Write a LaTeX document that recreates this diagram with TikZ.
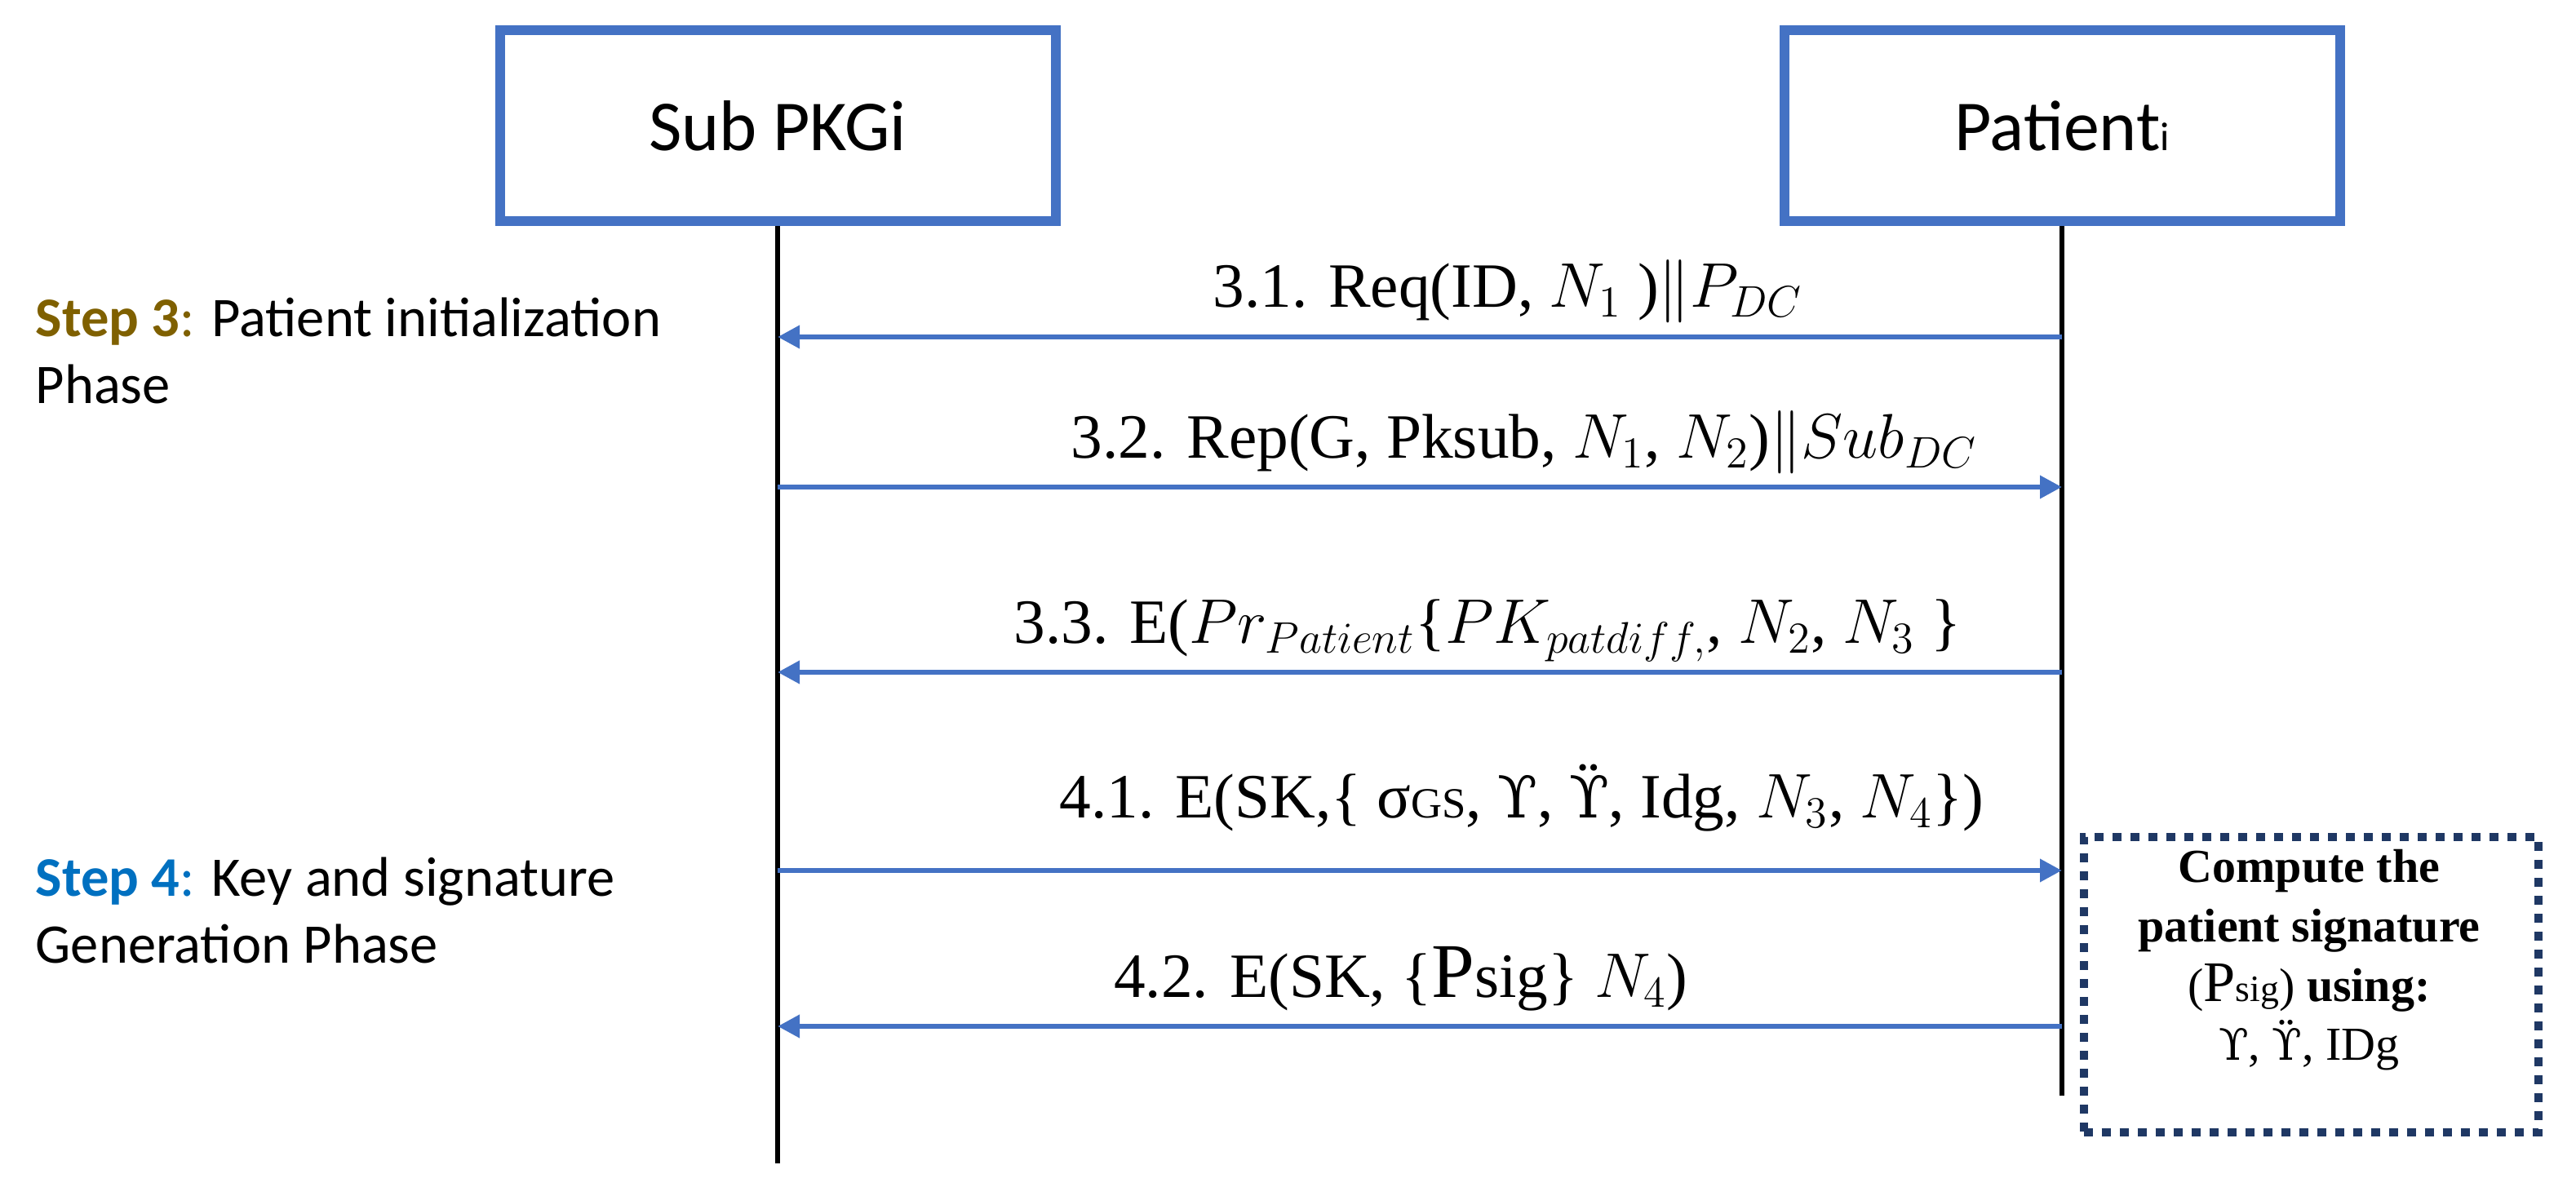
\RequirePackage{fix-cm}
\documentclass[tikz,border=0pt]{standalone}
\usepackage{fontspec}
\setmainfont{Liberation Serif}
\newfontfamily\calibri{Carlito}
\newfontfamily\upsfont[Scale=0.92]{DejaVu Serif}
\usetikzlibrary{arrows.meta,positioning}
\definecolor{boxblue}{HTML}{4472C4}
\definecolor{stepgold}{HTML}{7F6000}
\definecolor{stepblue}{HTML}{0070C0}
\definecolor{navy}{HTML}{1F3864}
\newcommand{\ups}{{\upsfont ϒ}}
\newcommand{\upsdd}{{\upsfont ϔ}}

\begin{document}
\begin{tikzpicture}[
    actor/.style={draw=boxblue, line width=0.12cm, minimum width=6.81cm, minimum height=2.34cm, font=\calibri\fontsize{25}{30}\selectfont},
    life/.style={line width=0.065cm},
    msg/.style={draw=boxblue, line width=0.066cm, -{Triangle[length=0.27cm,width=0.27cm]}},
    msglabel/.style={anchor=base, inner sep=0pt, font=\fontsize{22}{26}\selectfont},
    steptext/.style={anchor=base west, align=left, inner sep=0pt, font=\calibri\fontsize{19.5}{23.6}\selectfont},
    sigbox/.style={draw=navy, line width=0.1cm, dash pattern=on 0.11cm off 0.11cm, minimum width=5.57cm, minimum height=3.62cm},
    sigtext/.style={anchor=base, align=center, inner sep=0pt, font=\fontsize{16.5}{20.7}\selectfont}
]
\useasboundingbox (0,0) rectangle (31.57,14.66);

\node[actor] (sub) at (9.53,13.12) {Sub PKGi};
\node[actor] (pat) at (25.27,13.12) {Patient{\fontsize{14}{14}\selectfont i}};

% lifelines
\coordinate (subend) at (sub.south |- 0,0.40);
\coordinate (patend) at (pat.south |- 0,1.23);
\draw[life] (sub.south) -- (subend);
\draw[life] (pat.south) -- (patend);

\foreach \m/\y in {31/10.53, 32/8.69, 33/6.42, 41/3.99, 42/2.08}{
    \coordinate (s\m) at (sub.south |- 0,\y);
    \coordinate (p\m) at (pat.south |- 0,\y);
}

% messages
\draw[msg] (p31) -- (s31);
\draw[msg] (s32) -- (p32);
\draw[msg] (p33) -- (s33);
\draw[msg] (s41) -- (p41);
\draw[msg] (p42) -- (s42);

\node[msglabel] (m31) at (18.48,10.89) {3.1. Req(ID, $N_1$ )$\|$$P_{DC}$};
\node[msglabel] (m32) at (18.68,9.04) {3.2. Rep(G, Pksub, $N_1$, $N_2$)$\|$$Sub_{DC}$};
\node[msglabel] (m33) at (18.23,6.77) {3.3. E($Pr_{Patient}$\{$PK_{patdiff,}$, $N_2$, $N_3$ \}};
\node[msglabel] (m41) at (18.65,4.63) {4.1. E(SK,\{ σ{\fontsize{15}{15}\selectfont GS}, \ups, \upsdd, Idg, $N_3$, $N_4$\})};
\node[msglabel] (m42) at (17.17,2.43) {4.2. E(SK, \{{\fontsize{27}{27}\selectfont P}sig\} $N_4$)};

% phases
\node[steptext] (step3) at (0.43,9.71) {{\bfseries\color{stepgold}Step 3}{\color{stepgold}:} Patient initialization\\Phase};
\node[steptext] (step4) at (0.43,2.85) {{\bfseries\color{stepblue}Step 4}{\color{stepblue}:} Key and signature\\Generation Phase};

% signature box
\node[sigbox] (sig) at (28.32,2.59) {};
\node[sigtext] (sigtxt) at (28.30,1.66) {\bfseries Compute the\\\bfseries patient signature\\({\fontsize{20}{20}\selectfont P}{\fontsize{13}{13}\selectfont sig}) \textbf{using:}\\\ups, \upsdd, IDg};
\end{tikzpicture}
\end{document}
